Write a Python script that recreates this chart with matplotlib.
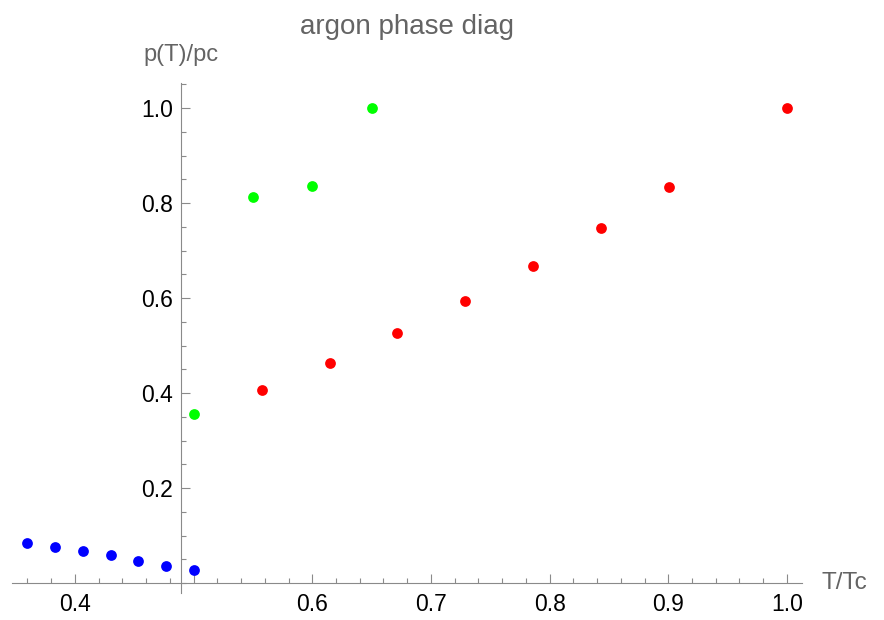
import numpy as np
import matplotlib
matplotlib.use("Agg")
from matplotlib import pyplot as plt
from matplotlib.ticker import MultipleLocator, FixedLocator

plt.rcParams["font.family"] = ["Liberation Sans", "DejaVu Sans"]

# solid-liquid (green), liquid-gas (red), solid-gas (blue) points
T_green = [0.500, 0.550, 0.600, 0.650]
p_green = [0.355, 0.812, 0.836, 1.000]

T_red = [0.5576, 0.6146, 0.6717, 0.7289, 0.7862, 0.8433, 0.9007, 1.000]
p_red = [0.406, 0.463, 0.526, 0.594, 0.668, 0.747, 0.833, 1.000]

T_blue = [0.360, 0.3834, 0.4067, 0.4301, 0.4534, 0.4768, 0.500]
p_blue = [0.0848, 0.0751, 0.0674, 0.0583, 0.0469, 0.0364, 0.0274]

x_major = [0.4, 0.5, 0.6, 0.7, 0.8, 0.9, 1.0]
x_labels = ["0.4", "", "0.6", "0.7", "0.8", "0.9", "1.0"]
y_major = [0.2, 0.4, 0.6, 0.8, 1.0]
y_labels = ["0.2", "0.4", "0.6", "0.8", "1.0"]

axis_gray = "#8a8a8a"
text_gray = "#646464"

W, H = 884, 620
fig = plt.figure(figsize=(W / 100, H / 100), dpi=100)
ax = fig.add_axes([12 / W, (H - 593) / H, (802 - 12) / W, (593 - 83) / H])

ax.set_xlim(0.347, 1.0127)
ax.set_ylim(-0.021, 1.053)

ms = 60
ax.scatter(T_green, p_green, s=ms, color=(0, 1, 0), linewidths=0, zorder=3, clip_on=False)
ax.scatter(T_red, p_red, s=ms, color=(1, 0, 0), linewidths=0, zorder=3, clip_on=False)
ax.scatter(T_blue, p_blue, s=ms, color=(0, 0, 1), linewidths=0, zorder=3, clip_on=False)

# Mathematica-style axes crossing near (0.49, 0)
for s in ["top", "right"]:
    ax.spines[s].set_visible(False)
ax.spines["left"].set_position(("data", 0.4895))
ax.spines["bottom"].set_position(("data", 0.0))
for s in ["left", "bottom"]:
    ax.spines[s].set_color(axis_gray)
    ax.spines[s].set_linewidth(0.8)

ax.xaxis.set_major_locator(FixedLocator(x_major))
ax.set_xticklabels(x_labels)
ax.xaxis.set_minor_locator(MultipleLocator(0.02))
ax.yaxis.set_major_locator(FixedLocator(y_major))
ax.set_yticklabels(y_labels)
ax.yaxis.set_minor_locator(MultipleLocator(0.05))

ax.tick_params(which="both", direction="in", color=axis_gray, width=0.8,
               labelsize=16.5, labelcolor="black")
ax.tick_params(which="major", length=6.5)
ax.tick_params(which="minor", length=3.6)
ax.tick_params(axis="x", which="major", pad=7)
ax.tick_params(axis="y", which="major", pad=6)

ax.annotate("T/Tc", xy=(1.0, 0.0), xycoords=("axes fraction", "data"),
            xytext=(14, 0), textcoords="offset points", ha="left", va="center",
            fontsize=17.5, color=text_gray)
ax.annotate("p(T)/pc", xy=(0.4895, 1.0), xycoords=("data", "axes fraction"),
            xytext=(0, 12), textcoords="offset points", ha="center", va="bottom",
            fontsize=17, color=text_gray)

ax.set_title("argon phase diag", fontsize=20, color=text_gray, pad=35)

fig.savefig("out.png", dpi=100)
